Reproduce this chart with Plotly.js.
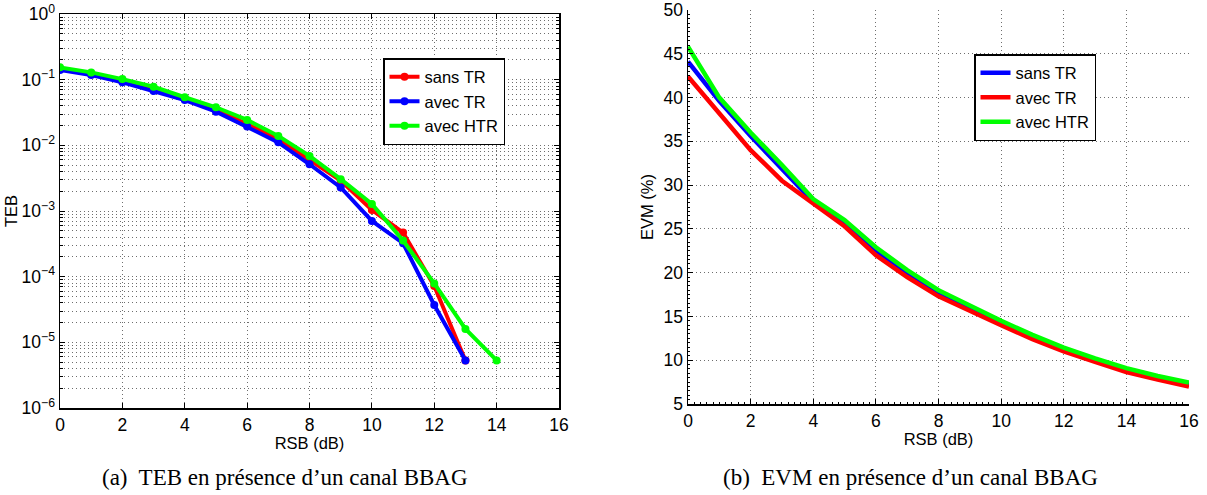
<!DOCTYPE html>
<html>
<head>
<meta charset="utf-8">
<script src="https://cdn.plot.ly/plotly-3.0.1.min.js"></script>
<style>
html,body{margin:0;padding:0;background:#fff;}
#chart{width:1207px;height:495px;}
</style>
</head>
<body>
<div id="chart"></div>
<script>
// ---- Data ----
const rsbTeb = [0,1,2,3,4,5,6,7,8,9,10,11,12,13,14];
const tebSansTR = [0.148,0.124,0.096,0.073,0.052,0.036,0.021,0.0125,0.006,0.0029,0.00104,0.00047,0.000072,0.0000053];
const tebAvecTR = [0.140,0.118,0.091,0.067,0.049,0.0326,0.0193,0.0111,0.00515,0.00228,0.000706,0.000323,0.000037,0.0000053];
const tebAvecHTR = [0.154,0.129,0.102,0.078,0.054,0.038,0.0244,0.0139,0.0069,0.00305,0.00128,0.000355,0.000079,0.000016,0.0000053];

const rsbEvm = [0,1,2,3,4,5,6,7,8,9,10,11,12,13,14,15,16];
const evmSansTR = [44.1,39.6,35.6,31.8,28.1,25.7,22.5,19.9,17.7,15.9,14.3,12.7,11.2,10.0,8.9,8.0,7.2];
const evmAvecTR = [42.4,38.2,34.0,30.5,27.9,25.3,22.0,19.5,17.3,15.6,14.0,12.4,11.0,9.8,8.65,7.8,7.0];
const evmAvecHTR = [45.8,40.0,36.0,32.3,28.4,26.0,22.9,20.3,18.0,16.2,14.5,12.9,11.45,10.2,9.1,8.2,7.45];

const tebTickVals = [1e-6,1e-5,1e-4,1e-3,1e-2,1e-1,1];
const tebTickText = ['10<sup>−6</sup>','10<sup>−5</sup>','10<sup>−4</sup>','10<sup>−3</sup>','10<sup>−2</sup>','10<sup>−1</sup>','10<sup>0</sup>'];
const legendNames = ['sans TR','avec TR','avec HTR'];
const captions = ['(a)  TEB en présence d’un canal BBAG','(b)  EVM en présence d’un canal BBAG'];

// ---- Styles ----
const RED='#ff0000', BLUE='#0000ff', GREEN='#00ff00';
const SANS='"Liberation Sans", Arial, Helvetica, sans-serif';
const SERIF='"Liberation Serif", "Times New Roman", serif';
const GRID='#6e6e6e';
const DOT='1px,3px';

function teb(y, name, color){
  return {x: rsbTeb.slice(0,y.length), y:y, name:name, type:'scatter', mode:'lines+markers',
    line:{color:color,width:4}, marker:{color:color,size:8}, xaxis:'x', yaxis:'y', legend:'legend'};
}
function evm(y, name, color){
  return {x: rsbEvm, y:y, name:name, type:'scatter', mode:'lines',
    line:{color:color,width:4.5}, xaxis:'x2', yaxis:'y2', legend:'legend2'};
}

const traces = [
  teb(tebSansTR, legendNames[0], RED),
  teb(tebAvecTR, legendNames[1], BLUE),
  teb(tebAvecHTR, legendNames[2], GREEN),
  evm(evmSansTR, legendNames[0], BLUE),
  evm(evmAvecTR, legendNames[1], RED),
  evm(evmAvecHTR, legendNames[2], GREEN)
];

const W=1207, H=495;
const tickFont = {family:SANS, size:17.5, color:'#000'};
const titleFont = {family:SANS, size:16.5, color:'#000'};
const layout = {
  width:W, height:H,
  margin:{l:0,r:0,t:0,b:0},
  paper_bgcolor:'#fff', plot_bgcolor:'#fff',
  font:{family:SANS, size:16, color:'#000'},
  xaxis:{domain:[60/W,559/W], anchor:'y', range:[0,16], dtick:2, tick0:0,
    showline:true, linecolor:'#000', linewidth:1.5, mirror:'ticks',
    ticks:'inside', ticklen:5, tickcolor:'#000',
    showgrid:true, gridcolor:GRID, griddash:DOT, gridwidth:1, zeroline:false,
    tickfont:tickFont, title:{text:'RSB (dB)', font:titleFont, standoff:0}},
  yaxis:{domain:[1-408/H,1-14/H], anchor:'x', type:'log', range:[-6,0],
    tickmode:'array', tickvals:tebTickVals, ticktext:tebTickText,
    showline:true, linecolor:'#000', linewidth:1.5, mirror:'ticks',
    ticks:'inside', ticklen:5, tickcolor:'#000',
    showgrid:true, gridcolor:GRID, griddash:DOT, gridwidth:1, zeroline:false,
    minor:{dtick:'D1', ticks:'inside', ticklen:3, tickcolor:'#000', showgrid:true, gridcolor:GRID, griddash:DOT, gridwidth:1},
    tickfont:tickFont, title:{text:'TEB', font:titleFont, standoff:0}},
  xaxis2:{domain:[688/W,1189/W], anchor:'y2', range:[0,16], dtick:2, tick0:0,
    showline:true, linecolor:'#000', linewidth:1.5, mirror:false,
    ticks:'inside', ticklen:5, tickcolor:'#000',
    minor:{dtick:0.2, ticks:'inside', ticklen:2, tickcolor:'#000', showgrid:false},
    showgrid:true, gridcolor:GRID, griddash:DOT, gridwidth:1, zeroline:false,
    tickfont:tickFont, title:{text:'RSB (dB)', font:titleFont, standoff:0}},
  yaxis2:{domain:[1-404/H,1-10/H], anchor:'x2', range:[5,50], dtick:5, tick0:5,
    showline:true, linecolor:'#000', linewidth:1.5, mirror:false,
    ticks:'inside', ticklen:5, tickcolor:'#000',
    minor:{dtick:0.5, ticks:'inside', ticklen:2, tickcolor:'#000', showgrid:false},
    showgrid:true, gridcolor:GRID, griddash:DOT, gridwidth:1, zeroline:false,
    tickfont:tickFont, title:{text:'EVM (%)', font:titleFont, standoff:6}},
  legend:{x:383/W, y:1-58/H, xanchor:'left', yanchor:'top', bgcolor:'#fff',
    bordercolor:'#000', borderwidth:1.5, font:{family:SANS,size:16.5,color:'#000'},
    itemwidth:30, tracegroupgap:0},
  legend2:{x:974/W, y:1-54/H, xanchor:'left', yanchor:'top', bgcolor:'#fff',
    bordercolor:'#000', borderwidth:1.5, font:{family:SANS,size:16.5,color:'#000'},
    itemwidth:30, tracegroupgap:0},
  showlegend:true,
  annotations:[
    {text:captions[0], xref:'paper', yref:'paper', x:285/W, y:1-477/H, xanchor:'center', yanchor:'middle',
     showarrow:false, font:{family:SERIF,size:23,color:'#000'}},
    {text:captions[1], xref:'paper', yref:'paper', x:910/W, y:1-477/H, xanchor:'center', yanchor:'middle',
     showarrow:false, font:{family:SERIF,size:23,color:'#000'}}
  ]
};

Plotly.newPlot('chart', traces, layout, {staticPlot:true, displayModeBar:false});
</script>
</body>
</html>
